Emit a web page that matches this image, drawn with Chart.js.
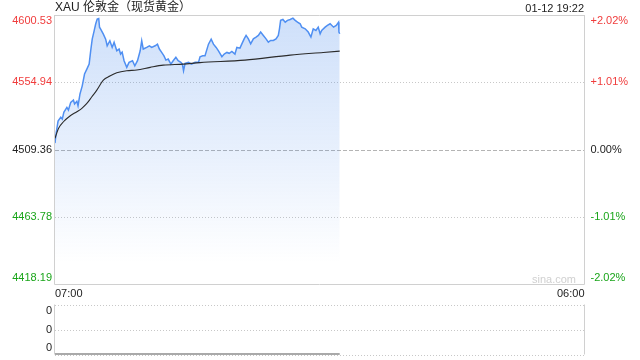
<!DOCTYPE html>
<html>
    <head>
        <meta charset="UTF-8" />
        <title>XAU 伦敦金（现货黄金）</title>
        <style type="text/css">
            body { margin: 0; width: 640px; height: 360px; background: #fff; overflow: hidden; position: relative;
                   font-family: "Liberation Sans", Arial, "Noto Sans CJK SC", sans-serif; }
            #mainBox { position: absolute; left: 0; top: 0; width: 640px; height: 300px; }
            #volBox { position: absolute; left: 0; top: 300px; width: 640px; height: 60px; }
            canvas { display: block; }
            .txt { position: absolute; font-size: 12px; color: #222; line-height: 14px; white-space: nowrap; }
            #title { left: 55px; top: 0px; }
            #stamp { right: 56px; top: 1px; font-size: 11px; }
            #mark { left: 532px; top: 272px; font-size: 11px; color: #d0d0d0; }
        </style>
    </head>
    <body>
        <div id="mainBox"><canvas id="mainChart" width="640" height="300"></canvas></div>
        <div id="volBox"><canvas id="volChart" width="640" height="60"></canvas></div>
        <div class="txt" id="title">XAU 伦敦金（现货黄金）</div>
        <div class="txt" id="stamp">01-12 19:22</div>
        <div class="txt" id="mark">sina.com</div>

        <script src="https://cdn.jsdelivr.net/npm/chart.js"></script>
        <script>
            // minutes after 07:00 and price
            const priceTimes = [0,3,8,15,19,23,31,35,41,48,51,57,60,65,71,77,83,89,93,97,
                102,106,110,114,116,119,126,132,136,143,149,154,161,167,171,175,180,187,193,202,
                208,215,222,226,230,239,246,252,261,267,272,278,284,289,295,302,308,315,321,328,
                332,335,339,348,356,365,374,378,385,391,400,407,413,420,426,435,441,448,454,461,
                469,474,482,487,493,498,504,510,517,524,530,536,543,550,556,562,569,576,582,585,
                588,594,600,606,613,620,626,632,639,643,652,660,667,673,680,686,691,695,704,710,
                717,726,733,739,740,742];
            const prices = [4513.9,4520.7,4528.8,4531.3,4530.1,4534.7,4538.0,4536.2,4541.4,4543.0,
                4540.3,4542.1,4539.1,4547.0,4552.6,4560.6,4563.9,4567.3,4576.3,4584.2,
                4589.8,4594.4,4597.8,4598.2,4592.3,4591.0,4587.6,4584.2,4579.7,4583.1,
                4578.6,4582.0,4576.3,4577.5,4574.1,4575.4,4569.6,4565.1,4568.5,4569.6,
                4566.2,4569.6,4576.3,4583.1,4577.5,4578.6,4579.7,4578.6,4579.7,4580.8,
                4577.5,4575.2,4572.9,4570.0,4570.7,4567.3,4569.6,4571.9,4569.6,4568.5,
                4567.3,4562.8,4567.8,4568.5,4567.3,4568.5,4568.5,4572.3,4572.9,4572.9,
                4580.8,4584.2,4580.8,4578.6,4576.3,4572.3,4574.1,4575.2,4574.6,4575.9,
                4574.1,4578.6,4578.1,4581.0,4584.4,4586.7,4584.4,4581.0,4584.4,4585.6,
                4586.7,4589.0,4586.7,4584.4,4582.2,4583.3,4583.3,4584.4,4586.7,4591.2,
                4596.9,4597.5,4595.7,4596.9,4597.5,4598.4,4596.9,4595.7,4594.6,4592.3,
                4591.2,4589.0,4585.6,4591.2,4590.1,4592.3,4587.8,4590.1,4592.3,4593.5,
                4594.6,4592.3,4593.5,4595.7,4589.0,4587.8];
            // average price line
            const avgTimes = [0,9,22,39,57,70,83,96,109,126,143,161,187,213,248,282,334,378,495,613,699,742];
            const avgPrices = [4517.1,4523.8,4528.3,4532.2,4535.1,4537.4,4540.7,4545.2,4549.7,4556.5,4559.2,
                4561.4,4562.8,4563.3,4565.1,4566.6,4567.3,4568.3,4570.0,4573.4,4575.2,4576.1];
            // volume (all zero)
            const volTimes = [0, 742];
            const volumes = [0, 0];

            const basePrice = 4509.36;
            const priceTicks = [4600.53, 4554.94, 4509.36, 4463.78, 4418.19];
            const pctLabels = ['+2.02%', '+1.01%', '0.00%', '-1.01%', '-2.02%'];
            const timeTicks = [0, 1380];
            const timeLabels = ['07:00', '06:00'];
            const volTicks = [1, 0.5, 0];
            const volLabels = ['0', '0', '0'];

            const FONT = '11px "Liberation Sans", Arial, sans-serif';
            function tickColor(v) {
                if (v > basePrice + 0.001) return '#f03c3c';
                if (v < basePrice - 0.001) return '#1aa51a';
                return '#222';
            }

            //grid, frame and y labels
            const panelPlugin = {
                id: 'panel',
                beforeDatasetsDraw(chart, args, opts) {
                    const ctx = chart.ctx, a = chart.chartArea, y = chart.scales.y;
                    ctx.save();
                    ctx.lineWidth = 1;
                    opts.ticks.forEach((v) => {
                        const py = Math.round(y.getPixelForValue(v)) + 0.5;
                        const edge = Math.abs(py - a.top) < 2 || Math.abs(py - a.bottom) < 2;
                        if (edge && opts.solidEdges) return;
                        if (opts.base !== undefined && Math.abs(v - opts.base) < 0.001) {
                            ctx.strokeStyle = '#b4b4b4';
                            ctx.setLineDash([4, 2]);
                        } else {
                            ctx.strokeStyle = '#c8c8c8';
                            ctx.setLineDash([1, 2]);
                        }
                        ctx.beginPath();
                        ctx.moveTo(a.left, py);
                        ctx.lineTo(a.right, py);
                        ctx.stroke();
                    });
                    ctx.setLineDash([]);
                    ctx.strokeStyle = '#d0d0d0';
                    ctx.beginPath();
                    const l = Math.round(a.left) - 0.5, r = Math.round(a.right) - 0.5;
                    ctx.moveTo(l, a.top); ctx.lineTo(l, a.bottom);
                    ctx.moveTo(r, a.top); ctx.lineTo(r, a.bottom);
                    if (opts.solidEdges) {
                        const t = Math.round(a.top) + 0.5, b = Math.round(a.bottom) - 0.5;
                        ctx.moveTo(l, t); ctx.lineTo(r, t);
                        ctx.moveTo(l, b); ctx.lineTo(r, b);
                    }
                    ctx.stroke();

                    // labels
                    ctx.font = FONT;
                    ctx.textBaseline = 'middle';
                    opts.ticks.forEach((v, i) => {
                        let py = y.getPixelForValue(v);
                        py = Math.min(Math.max(py, a.top + 6), a.bottom - 6.5);
                        ctx.fillStyle = opts.colored ? tickColor(v) : '#222';
                        ctx.textAlign = 'right';
                        ctx.fillText(opts.labels[i], a.left - 3, py);
                        if (opts.rightLabels) {
                            ctx.textAlign = 'left';
                            ctx.fillText(opts.rightLabels[i], a.right + 6, py);
                        }
                    });
                    ctx.restore();
                }
            };

            const mainChart = new Chart(document.getElementById('mainChart'), {
                type: 'line',
                data: {
                    datasets: [{
                        label: 'avg',
                        data: avgTimes.map((t, i) => ({ x: t, y: avgPrices[i] })),
                        borderColor: '#2b2b2b',
                        borderWidth: 1.1,
                        pointRadius: 0,
                        cubicInterpolationMode: 'monotone',
                        fill: false
                    }, {
                        label: 'price',
                        data: priceTimes.map((t, i) => ({ x: t, y: prices[i] })),
                        borderColor: '#4f8ff2',
                        borderWidth: 1.5,
                        pointRadius: 0,
                        tension: 0,
                        fill: 'start',
                        backgroundColor: (c) => {
                            const a = c.chart.chartArea;
                            if (!a) return 'rgba(60,130,235,0.2)';
                            const g = c.chart.ctx.createLinearGradient(0, a.top, 0, a.bottom);
                            g.addColorStop(0, 'rgba(60,130,235,0.25)');
                            g.addColorStop(0.5, 'rgba(60,130,235,0.12)');
                            g.addColorStop(0.92, 'rgba(60,130,235,0)');
                            return g;
                        }
                    }]
                },
                options: {
                    animation: false,
                    responsive: false,
                    events: [],
                    layout: { padding: { left: 55, right: 55.5, top: 15, bottom: 0 } },
                    plugins: {
                        legend: { display: false },
                        tooltip: { enabled: false },
                        panel: { ticks: priceTicks, labels: priceTicks.map(v => v.toFixed(2)),
                                 rightLabels: pctLabels, base: basePrice, colored: true, solidEdges: true }
                    },
                    scales: {
                        x: {
                            type: 'linear', min: 0, max: 1380,
                            afterBuildTicks: (s) => { s.ticks = timeTicks.map(v => ({ value: v })); },
                            afterFit: (s) => { s.height = 15.5; },
                            ticks: {
                                align: 'inner', padding: 3, color: '#222', font: { size: 11, family: '"Liberation Sans", Arial' },
                                callback: (v, i) => timeLabels[i]
                            },
                            grid: { display: false, drawTicks: false },
                            border: { display: false }
                        },
                        y: { display: false, min: 4418.19, max: 4600.53 }
                    }
                },
                plugins: [panelPlugin]
            });

            const volChart = new Chart(document.getElementById('volChart'), {
                type: 'line',
                data: {
                    datasets: [{
                        label: 'volume',
                        data: volTimes.map((t, i) => ({ x: t, y: volumes[i] })),
                        borderColor: '#555',
                        borderWidth: 2,
                        pointRadius: 0,
                        fill: false
                    }]
                },
                options: {
                    animation: false,
                    responsive: false,
                    events: [],
                    layout: { padding: { left: 55, right: 55.5, top: 4.5, bottom: 5.5 } },
                    plugins: {
                        legend: { display: false },
                        tooltip: { enabled: false },
                        panel: { ticks: volTicks, labels: volLabels, colored: false, solidEdges: false }
                    },
                    scales: {
                        x: { display: false, type: 'linear', min: 0, max: 1380 },
                        y: { display: false, min: 0, max: 1 }
                    }
                },
                plugins: [panelPlugin]
            });
        </script>
    </body>
</html>
